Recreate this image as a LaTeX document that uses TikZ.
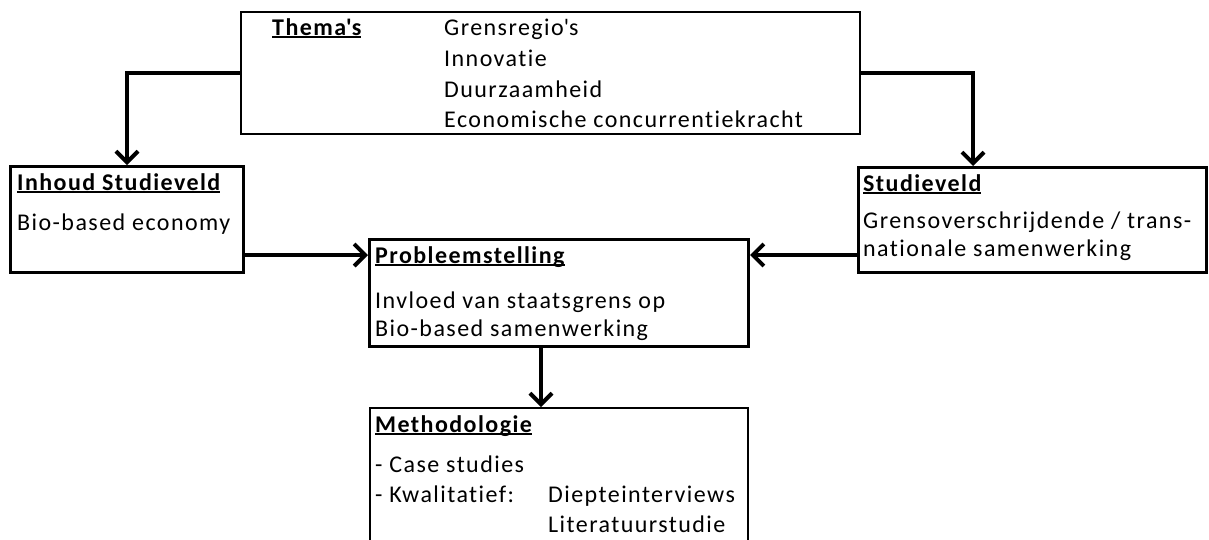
\documentclass[tikz,border=0pt]{standalone}
\usepackage{fontspec}
\setmainfont{Carlito}[LetterSpace=6, Ligatures={NoCommon}]
\usetikzlibrary{arrows.meta}
% underline that sits just below the baseline, as in a word processor
\newcommand\ulword[1]{\setbox0\hbox{#1}\rlap{\rule[-2.6pt]{\wd0}{1.8pt}}\box0}
\newcommand\apos{\textquotesingle}
\tikzset{
  thinbox/.style={draw, line width=1.5pt, inner sep=0pt, anchor=north west},
  thickbox/.style={draw, line width=3pt, inner sep=0pt, anchor=north west},
  txt/.style={anchor=base west, inner sep=0pt, font=\fontsize{24}{28}\selectfont},
  ttl/.style={txt, font=\fontsize{24}{28}\selectfont\bfseries},
  arr/.style={line width=4pt, -{Straight Barb[length=11pt,width=22pt,line width=4pt]}},
}
\begin{document}
\begin{tikzpicture}[x=1pt,y=-1pt]
\useasboundingbox (0,0) rectangle (1209,539);
\begin{scope}
\clip (0,0) rectangle (1209,539);
% boxes
\node[thinbox, minimum width=619pt, minimum height=122pt] (thema) at (240,11) {};
\node[thickbox, minimum width=233pt, minimum height=106pt] (inhoud) at (9,165) {};
\node[thickbox, minimum width=348pt, minimum height=105pt] (studie) at (857,166) {};
\node[thickbox, minimum width=379pt, minimum height=107pt] (probleem) at (368,238) {};
\node[thinbox, minimum width=378pt, minimum height=160pt] (methode) at (369,407) {};
\end{scope}
% texts
\node[ttl] (thematitle) at (272,35) {\ulword{Thema\apos s}};
\node[txt] (t1) at (444,35) {Grensregio\apos s};
\node[txt] (t2) at (444,66) {Innovatie};
\node[txt] (t3) at (444,97) {Duurzaamheid};
\node[txt] (t4) at (444,127) {Economische concurrentiekracht};
\node[ttl] (inhoudtitle) at (17,190) {\ulword{Inhoud Studieveld}};
\node[txt] (i1) at (17,230) {Bio-based economy};
\node[ttl] (studietitle) at (863,191) {\ulword{Studieveld}};
\node[txt] (s1) at (863,228) {Grensoverschrijdende / trans-};
\node[txt] (s2) at (863,256) {nationale samenwerking};
\node[ttl] (probtitle) at (375,263) {\ulword{Probleemstelling}};
\node[txt] (p1) at (375,308) {Invloed van staatsgrens op};
\node[txt] (p2) at (375,336) {Bio-based samenwerking};
\node[ttl] (methtitle) at (375,432) {\ulword{Methodologie}};
\node[txt] (m1) at (375,472) {- Case studies};
\node[txt] (m2) at (375,502) {- Kwalitatief:};
\node[txt] (m3) at (548,502) {Diepteinterviews};
\node[txt] (m4) at (548,532) {Literatuurstudie};
% connectors
\coordinate (sdrop) at (973,0);
\coordinate (hline) at (0,255);
\coordinate (vline) at (541,0);
\draw[arr] (thema.west) -| (inhoud.north);
\draw[arr] (thema.east) -| (sdrop |- studie.north);
\draw[arr] (inhoud.east |- hline) -- (probleem.west |- hline);
\draw[arr] (studie.west |- hline) -- (probleem.east |- hline);
\draw[arr] (probleem.south -| vline) -- (methode.north -| vline);
\end{tikzpicture}
\end{document}
